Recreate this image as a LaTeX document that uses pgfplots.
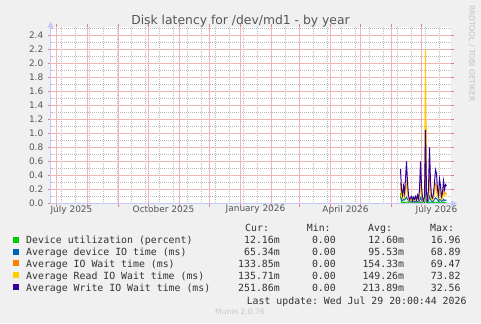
\documentclass[border=0pt]{standalone}
\usepackage{fontspec}
\setmainfont{DejaVu Sans}
\setmonofont{DejaVu Sans Mono}
\usepackage{pgfplots}
\usepackage{pgfplotstable}
\pgfplotsset{compat=1.18}
\definecolor{bg}{HTML}{F0F0F0}
\definecolor{cgreen}{HTML}{00CC00}
\definecolor{cblue}{HTML}{0066B3}
\definecolor{corange}{HTML}{FF8000}
\definecolor{cyellow}{HTML}{FFCC00}
\definecolor{cpurple}{HTML}{330099}
\definecolor{mgrid}{RGB}{238,182,182}
\definecolor{mtick}{RGB}{225,130,130}
\definecolor{sgrid}{RGB}{185,185,185}
\definecolor{axcol}{RGB}{195,200,250}
\definecolor{txt}{RGB}{85,85,85}
\definecolor{legtxt}{RGB}{50,50,50}

\pgfplotstableread{
day green blue orange yellow purple
344 0.15 0.10 0.30 0.25 0.49
345 0.02 0.05 0.12 0.10 0.20
346 0.01 0.04 0.08 0.07 0.12
347 0.02 0.06 0.15 0.14 0.25
348 0.01 0.05 0.10 0.09 0.15
349 0.02 0.07 0.20 0.18 0.35
350 0.02 0.09 0.30 0.28 0.60
351 0.02 0.06 0.18 0.16 0.30
352 0.01 0.04 0.08 0.07 0.12
353 0.01 0.02 0.04 0.03 0.05
354 0.01 0.03 0.06 0.06 0.08
355 0.01 0.03 0.07 0.07 0.10
356 0.01 0.02 0.03 0.03 0.04
357 0.01 0.03 0.06 0.06 0.09
358 0.01 0.02 0.05 0.05 0.06
359 0.01 0.03 0.07 0.07 0.10
360 0.01 0.02 0.04 0.04 0.05
361 0.01 0.03 0.08 0.08 0.12
362 0.01 0.02 0.05 0.05 0.07
363 0.01 0.04 0.12 0.12 0.20
364 0.02 0.08 0.35 0.30 0.60
365 0.01 0.05 0.15 0.13 0.25
366 0.01 0.03 0.06 0.05 0.08
367 0.00 0.01 0.02 0.02 0.04
368 0.01 0.03 0.07 0.06 0.10
369 0.31 0.45 1.40 2.19 1.05
370 0.01 0.05 0.12 0.12 0.15
371 0.01 0.02 0.04 0.04 0.05
372 0.01 0.04 0.12 0.10 0.20
373 0.02 0.10 0.40 0.30 0.80
374 0.01 0.06 0.18 0.15 0.30
375 0.01 0.03 0.07 0.06 0.10
376 0.01 0.02 0.05 0.05 0.08
377 0.01 0.04 0.10 0.09 0.15
378 0.02 0.06 0.18 0.16 0.30
379 0.02 0.08 0.28 0.25 0.48
380 0.02 0.07 0.25 0.22 0.43
381 0.01 0.05 0.12 0.10 0.20
382 0.01 0.03 0.08 0.07 0.12
383 0.02 0.06 0.20 0.18 0.35
384 0.01 0.05 0.15 0.14 0.25
385 0.01 0.03 0.06 0.06 0.10
386 0.01 0.04 0.09 0.08 0.15
387 0.02 0.06 0.18 0.16 0.32
388 0.01 0.04 0.12 0.11 0.20
389 0.01 0.05 0.15 0.14 0.27
390 0.01 0.05 0.14 0.13 0.25
}\disk

\newcommand{\legfont}{\fontsize{9.9}{12}\selectfont\ttfamily}
\newcommand{\tickfont}{\fontsize{9}{10}\selectfont}

\begin{document}
\begin{tikzpicture}[x=1bp,y=1bp]
\fill[bg] (0,0) rectangle (481,323);
\begin{axis}[
  at={(50.5bp,119.5bp)}, anchor=south west, scale only axis,
  width=400bp, height=176bp,
  xmin=-6, xmax=394, ymin=0, ymax=2.51428571,
  axis line style={draw=none},
  axis background/.style={fill=white},
  xtick={0,31,62,92,123,153,184,215,243,274,304,335,365},
  xticklabels={},
  minor xtick={5,19,...,391},
  extra x ticks={15,107,199,289,380},
  extra x tick labels={July 2025,October 2025,January 2026,April 2026,July 2026},
  extra x tick style={grid=none, major tick length=0pt},
  ytick={0,0.2,0.4,0.6,0.8,1.0,1.2,1.4,1.6,1.8,2.0,2.2,2.4},
  minor ytick={0.1,0.3,0.5,0.7,0.9,1.1,1.3,1.5,1.7,1.9,2.1,2.3,2.5},
  grid=both,
  major grid style={mgrid, line width=1.3bp},
  minor grid style={sgrid, line width=1bp, dash pattern=on 1bp off 1bp, dash phase=0.5bp},
  tick align=outside, major tick length=3bp, minor tick length=0pt,
  major tick style={mtick, line width=1bp},
  yticklabel style={font=\tickfont, text=txt, inner sep=0pt, anchor=east, xshift=-4bp,
    /pgf/number format/.cd, fixed, fixed zerofill, precision=1, assume math mode=true},
  xticklabel style={font=\tickfont, text=txt, inner sep=0pt, anchor=north, yshift=-1.5bp},
  every axis plot/.append style={line width=1bp, mark=none},
]
\pgfplotsinvokeforeach{0,31,62,92,123,153,184,215,243,274,304,335,365}{
  \draw[mgrid, line width=1.2bp] (axis cs:#1,0) -- (axis cs:#1,2.514);
}
\addplot[cgreen] table[x=day,y=green]{\disk};
\addplot[cblue] table[x=day,y=blue]{\disk};
\addplot[corange] table[x=day,y=orange]{\disk};
\addplot[cyellow] table[x=day,y=yellow]{\disk};
\addplot[cpurple] table[x=day,y=purple]{\disk};
\end{axis}
% axis lines
\draw[axcol, line width=1bp] (50,119.5) -- (453,119.5);
\fill[axcol] (451,116.5) -- (457,119.5) -- (451,122.5) -- cycle;
\draw[axcol, line width=1bp] (50.5,119.5) -- (50.5,298);
\fill[axcol] (47.5,295.5) -- (50.5,301.5) -- (53.5,295.5) -- cycle;
% title
\node[anchor=base, inner sep=0pt, text=txt, font=\fontsize{12.4}{14}\selectfont] at (240.5,299) {Disk latency for /dev/md1 - by year};
% watermark
\node[rotate=-90, inner sep=0pt, text=black!25, font=\fontsize{7.5}{8}\selectfont] at (471.7,269.7) {RRDTOOL / TOBI OETIKER};
% legend
\begin{scope}[every node/.style={inner sep=0pt, font=\legfont, text=legtxt}]
\node[anchor=base west] at (245,91.7) {Cur:};
\node[anchor=base west] at (306.7,91.7) {Min:};
\node[anchor=base west] at (368,91.7) {Avg:};
\node[anchor=base west] at (430,91.7) {Max:};
\foreach \y/\c/\lab/\cur/\mn/\avg/\mx in {
  79.7/cgreen/Device utilization (percent)/12.16m/0.00/12.60m/16.96,
  67.7/cblue/Average device IO time (ms)/65.34m/0.00/95.53m/68.89,
  56/corange/Average IO Wait time (ms)/133.85m/0.00/154.33m/69.47,
  44/cyellow/Average Read IO Wait time (ms)/135.71m/0.00/149.26m/73.82,
  32/cpurple/Average Write IO Wait time (ms)/251.86m/0.00/213.89m/32.56}{
  \fill[\c] (13,\y+0.6) rectangle (19,\y+6.6);
  \node[anchor=base west] at (26,\y) {\lab};
  \node[anchor=base east] at (280,\y) {\cur};
  \node[anchor=base east] at (336,\y) {\mn};
  \node[anchor=base east] at (404.3,\y) {\avg};
  \node[anchor=base east] at (460.7,\y) {\mx};
}
\node[anchor=base east] at (466.7,19) {Last update: Wed Jul 29 20:00:44 2026};
\end{scope}
\node[inner sep=0pt, text=black!22, font=\fontsize{7.6}{8}\selectfont] at (240,11.3) {Munin 2.0.76};
\pgfresetboundingbox
\path[use as bounding box] (0,0) rectangle (481,323);
\end{tikzpicture}
\end{document}
